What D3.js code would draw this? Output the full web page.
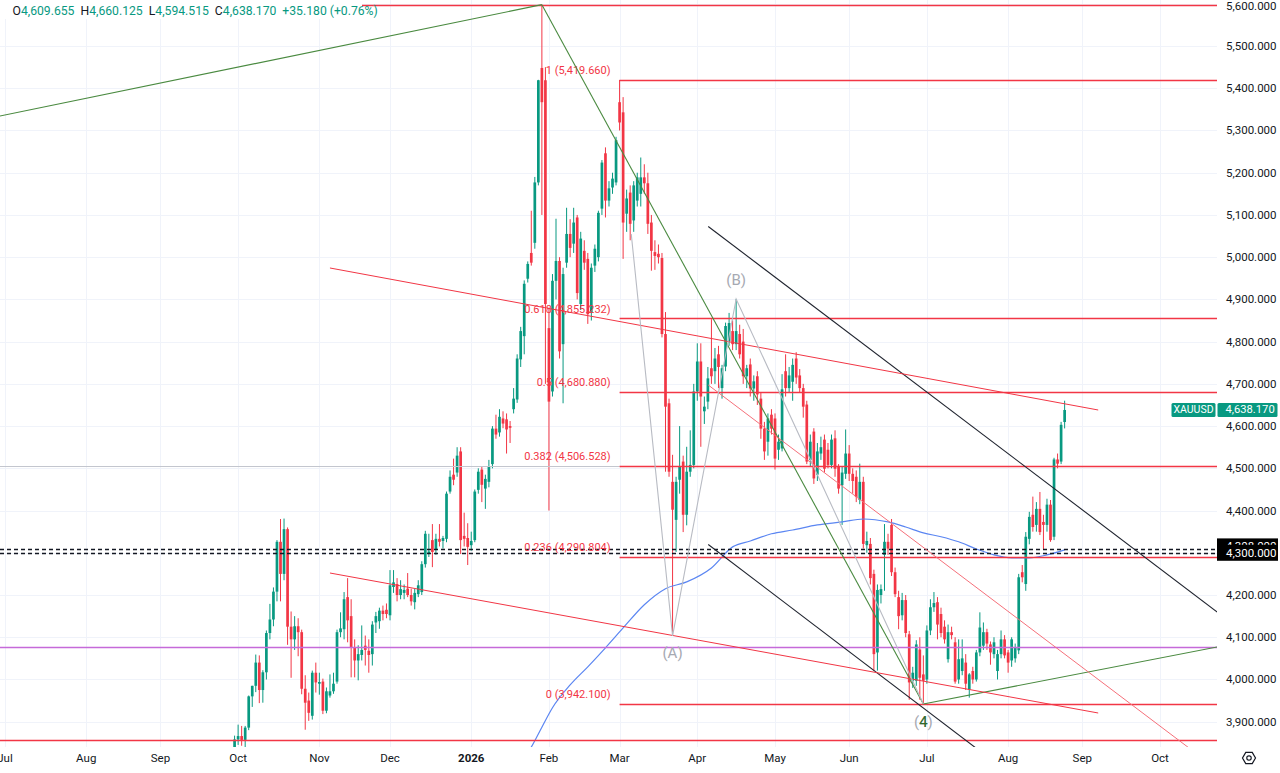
<!DOCTYPE html>
<html><head><meta charset="utf-8">
<script src="https://cdn.jsdelivr.net/npm/d3@7"></script>
<style>
html,body{margin:0;padding:0;background:#fff;overflow:hidden;}
svg{display:block;font-family:Roboto,"Noto Sans",sans-serif;}
</style></head><body>
<svg id="chart" width="1280" height="773"></svg>
<script>
// ---------------- DATA ----------------
const firstBarDate = "2025-09-30";
// daily candles [open, high, low, close]
const sep25 = [[3840,3867,3836,3858]];
const oct25 = [[3858,3893,3845,3866],[3866,3890,3843,3857],[3857,3890,3835,3886],[3886,3962,3880,3960],[3960,3985,3935,3985],
 [3985,4059,3970,4040],[4040,4057,3944,3975],[3975,4022,3945,4017],[4017,4116,4000,4110],[4110,4179,4095,4142],
 [4142,4218,4126,4208],[4208,4330,4185,4326],[4326,4380,4185,4250],[4250,4381,4235,4356],[4356,4360,4082,4125],
 [4125,4161,4004,4095],[4095,4150,4070,4126],[4126,4145,4055,4112],[4112,4118,3965,3978],[3978,4010,3881,3945],
 [3950,3969,3902,3921],[3914,4021,3905,4016],[4016,4040,3969,3993]];
const nov25 = [[3990,4016,3964,3994],[3995,4002,3918,3926],[3926,3981,3920,3972],[3962,4012,3957,3972],[3972,4016,3966,3990],
 [3995,4118,3990,4112],[4112,4159,4100,4121],[4119,4207,4095,4190],[4195,4240,4088,4140],[4150,4190,4005,4076],
 [4076,4095,4005,4045],[4045,4081,3998,4060],[4058,4128,4045,4070],[4080,4104,4033,4070],[4068,4095,4016,4058],
 [4060,4138,4033,4130],[4135,4160,4110,4150],[4138,4170,4120,4163],[4163,4175,4140,4155],[4165,4180,4145,4155]];
const dec25 = [[4152,4259,4140,4223],[4219,4259,4205,4230],[4226,4240,4185,4200],[4200,4235,4190,4214],[4205,4225,4190,4212],
 [4215,4252,4195,4200],[4200,4215,4175,4185],[4183,4215,4166,4205],[4202,4235,4195,4223],[4207,4280,4200,4273],
 [4273,4352,4265,4345],[4298,4345,4290,4303],[4330,4368,4266,4302],[4309,4345,4295,4333],[4333,4368,4315,4326],
 [4328,4340,4310,4335],[4333,4445,4325,4440],[4445,4495,4440,4480],[4485,4523,4460,4473],[4490,4550,4480,4530],
 [4540,4550,4297,4330],[4340,4395,4315,4333],[4335,4370,4271,4314]];
const jan26 = [[4318,4350,4305,4328],[4330,4450,4325,4445],[4449,4500,4440,4492],[4497,4505,4420,4461],[4452,4485,4404,4475],
 [4468,4520,4455,4504],[4510,4600,4500,4594],[4594,4627,4570,4580],[4585,4640,4575,4622],[4618,4635,4595,4606],
 [4616,4630,4535,4592],[4600,4612,4560,4596],[4640,4690,4630,4665],[4663,4770,4655,4760],[4758,4835,4740,4825],
 [4813,4945,4770,4937],[4949,4990,4940,4984],[5010,5110,4980,4987],[5034,5190,5020,5177],[5177,5420,5170,5419],
 [5448,5598,5100,5367],[5419,5450,4700,4889]];
const feb26 = [[4832,4880,4400,4658],[4682,4960,4670,4944],[4944,5091,4900,4991],[4991,5000,4760,4777],[4794,4975,4654,4960],
 [4987,5117,4975,5055],[5055,5090,5000,5022],[5032,5117,5010,5082],[5094,5100,4900,4915],[4889,5060,4875,5044],
 [5015,5040,4970,4987],[4996,5010,4842,4865],[4868,4985,4850,4975],[4980,5030,4965,5020],[5000,5110,4990,5105],
 [5115,5230,5100,5224],[5246,5260,5094,5134],[5134,5180,5120,5163],[5165,5200,5150,5186],[5177,5285,5170,5277]];
const mar26 = [[5367,5419.66,5300,5319],[5343,5379,4996,5082],[5103,5160,5060,5139],[5153,5170,5040,5079],[5087,5180,5060,5170],
 [5134,5200,5120,5189],[5150,5236,5120,5189],[5189,5220,5150,5175],[5175,5200,5055,5079],[5082,5100,4968,5015],
 [5012,5040,4970,5003],[5008,5030,4985,5000],[4998,5010,4810,4818],[4818,4870,4492,4646],[4654,4665,4480,4492],
 [4468,4532,4103,4402],[4378,4480,4302,4468],[4473,4600,4440,4504],[4516,4530,4349,4390],[4390,4551,4365,4492],
 [4492,4590,4480,4508],[4508,4700,4500,4682]];
const apr26 = [[4682,4796,4660,4753],[4753,4796,4551,4670],[4635,4670,4605,4646],[4658,4740,4640,4713],[4737,4853,4700,4718],
 [4730,4785,4700,4760],[4770,4790,4690,4740],[4690,4745,4665,4737],[4741,4845,4730,4837],[4801,4868,4790,4844],
 [4825,4850,4780,4794],[4794,4901,4780,4825],[4818,4840,4760,4770],[4800,4830,4700,4718],[4718,4745,4690,4737],
 [4746,4760,4670,4689],[4689,4720,4660,4706],[4718,4730,4650,4675],[4665,4680,4570,4594],[4594,4610,4520,4540],
 [4563,4630,4530,4618],[4627,4640,4580,4594]];
const may26 = [[4618,4630,4497,4523],[4544,4580,4520,4563],[4547,4723,4540,4687],[4730,4770,4670,4690],[4690,4740,4680,4720],
 [4705,4760,4660,4745],[4760,4775,4700,4715],[4720,4735,4680,4690],[4690,4700,4620,4646],[4651,4660,4510,4516],
 [4520,4580,4505,4563],[4587,4595,4463,4476],[4485,4560,4470,4540],[4535,4575,4520,4550],[4568,4580,4490,4499],
 [4544,4560,4500,4508],[4508,4580,4500,4568],[4571,4590,4480,4499],[4504,4510,4440,4452],[4460,4505,4366,4490],
 [4487,4592,4475,4535]];
const jun26 = [[4535,4555,4470,4487],[4487,4500,4440,4470],[4480,4495,4420,4432],[4425,4511,4415,4468],[4468,4480,4310,4321],
 [4318,4350,4300,4328],[4321,4335,4225,4240],[4250,4260,4021,4060],[4064,4225,4021,4212],[4200,4225,4180,4214],
 [4295,4368,4210,4326],[4326,4345,4295,4310],[4366,4380,4245,4254],[4254,4265,4195,4202],[4195,4210,4119,4150],
 [4152,4205,4140,4188],[4188,4200,4100,4110],[4107,4115,3952,3993],[3997,4030,3980,4016],[3997,4093,3985,4083],
 [4071,4100,3952,4004],[4012,4057,3942.1,3997]];
const jul26 = [[4000,4128,3990,4116],[4116,4190,4105,4171],[4171,4207,4160,4181],[4183,4195,4095,4130],[4155,4170,4100,4110],
 [4125,4140,4085,4095],[4048,4130,4040,4112],[4112,4125,4095,4105],[4088,4100,3990,3995],[4000,4095,3990,4048],
 [4020,4095,4010,4050],[4040,4060,3975,3990],[3976,4015,3957,4012],[4020,4030,3990,4000],[4000,4070,3995,4064],
 [4064,4159,4055,4123],[4080,4135,4070,4112],[4112,4120,4070,4085],[4083,4090,4035,4064],[4060,4100,4050,4088],
 [4020,4070,4000,4060],[4060,4116,4050,4095],[4095,4105,4050,4057]];
const aug26 = [[4064,4070,4016,4040],[4045,4100,4030,4095],[4050,4085,4040,4075],[4069,4250,4060,4242],[4254,4271,4230,4242],
 [4226,4349,4210,4338],[4333,4397,4320,4385],[4390,4433,4350,4361],[4366,4420,4350,4404],[4404,4444,4342,4349],
 [4373,4390,4309,4366],[4366,4428,4350,4414],[4414,4425,4326,4330],[4338,4525,4330,4521],[4521,4535,4500,4511],
 [4516,4610,4510,4602.99],[4609.655,4660.125,4594.515,4638.17]];

// moving average (bar index = weekdays since 2025-07-01, value)
const maPoints = [[147,3815],[149,3840],[152,3887],[155,3933],[160,3987],[165,4030],[170,4075],[175,4122],[181,4177],
 [187,4215],[193,4231],[200,4264],[206,4314],[211,4328],[217,4345],[223,4354],[230,4366],[237,4373],[243,4380],
 [250,4373],[255,4361],[260,4347],[265,4338],[270,4326],[275,4309],[280,4295],[285,4288],[290,4288],[295,4295],[300,4307]];

// axis ticks
const timeTickLabels = ["Jul","Aug","Sep","Oct","Nov","Dec","2026","Feb","Mar","Apr","May","Jun","Jul","Aug","Sep","Oct"];
const timeTickDates = ["2025-07-01","2025-08-01","2025-09-01","2025-10-01","2025-11-03","2025-12-01","2026-01-01","2026-02-02",
 "2026-03-02","2026-04-01","2026-05-01","2026-06-01","2026-07-01","2026-08-03","2026-09-01","2026-10-01"];
const priceTicks = [3900,4000,4100,4200,4300,4400,4500,4600,4700,4800,4900,5000,5100,5200,5300,5400,5500,5600];

// drawings: [barIndex, price]
const fibHigh = 5419.66, fibLow = 3942.1, fibStartBar = 174;
const fibRatios = [1,0.618,0.5,0.382,0.236,0];
const greenLines = [[[-5,5328],[152,5598]], [[152,5598],[260,3942.1]], [[260,3942.1],[343.2,4077]]];
const blackLines = [[[199.1,5072.6],[343.2,4159.8]], [[199.1,4319.6],[300,3678]]];
const redDiagLines = [[[92,4974.4],[309.5,4638.1]], [[92,4252.1],[309.5,3920.6]], [[199.1,4697.3],[345,3776]]];
const waveZigzag = [[177.3,5055],[189,4103],[207,4901],[260,3942.1]];
const waveLabels = ["(A)","(B)","(4)"];
const waveBars = [189,207,260];
const wavePrices = [4103,4901,3942.1];
const redLevels = [5598,3857];
const purpleLevels = [4077];
const greyLevels = [4506.5];
const dashedLevels = [4308,4300];
const symbol = "XAUUSD";

// ---------------- CHART ----------------
const svg = d3.select("#chart");
const plotR = 1217, plotB = 747;
const UP = "#089981", DN = "#f23645", TXT = "#131722";
const AXF = 11.5;
const x = d3.scaleLinear().domain([0,327]).range([5,1160]);
const y = d3.scaleLinear().domain([3900,5600]).range([721.7,3.8]);
const yr = p => Math.round(y(p)) + 0.5;
const origin = Date.UTC(2025,6,1);
function wd(s){ const end = new Date(s+"T00:00:00Z").getTime(); let n=0;
  for(let t=origin; t<end; t+=86400000){ const g=new Date(t).getUTCDay(); if(g!==0&&g!==6) n++; } return n; }

const candles = [].concat(sep25,oct25,nov25,dec25,jan26,feb26,mar26,apr26,may26,jun26,jul26,aug26);
const t0 = wd(firstBarDate);
const bars = candles.map((c,i)=>({t:t0+i,o:c[0],h:c[1],l:c[2],c:c[3]}));

svg.append("rect").attr("width",1280).attr("height",773).attr("fill","#fff");
const defs = svg.append("defs");
defs.append("clipPath").attr("id","plot").append("rect").attr("x",0).attr("y",0).attr("width",plotR).attr("height",plotB);
const g = svg.append("g").attr("clip-path","url(#plot)");

// grid
g.append("g").selectAll("line").data(priceTicks).join("line")
 .attr("x1",0).attr("x2",plotR).attr("y1",d=>yr(d)).attr("y2",d=>yr(d)).attr("stroke","#f0f3fa").attr("stroke-width",1);
const tickT = timeTickDates.map(wd);
g.append("g").selectAll("line").data(tickT).join("line")
 .attr("x1",d=>Math.round(x(d))+0.5).attr("x2",d=>Math.round(x(d))+0.5).attr("y1",0).attr("y2",plotB).attr("stroke","#f0f3fa").attr("stroke-width",1);

const line = d3.line().x(d=>x(d[0])).y(d=>y(d[1]));

// candles
const cg = g.append("g");
cg.selectAll("line").data(bars).join("line")
 .attr("x1",d=>x(d.t)).attr("x2",d=>x(d.t)).attr("y1",d=>y(d.h)).attr("y2",d=>y(d.l))
 .attr("stroke",d=>d.c>=d.o?UP:DN).attr("stroke-width",1);
cg.selectAll("rect").data(bars).join("rect")
 .attr("x",d=>x(d.t)-1.35).attr("width",2.7)
 .attr("y",d=>y(Math.max(d.o,d.c))).attr("height",d=>Math.max(1,Math.abs(y(d.o)-y(d.c))))
 .attr("fill",d=>d.c>=d.o?UP:DN);

// moving average
g.append("path").datum(maPoints).attr("d",d3.line().x(d=>x(d[0])).y(d=>y(d[1])).curve(d3.curveMonotoneX))
 .attr("fill","none").attr("stroke","#5b86f2").attr("stroke-width",1.2);

// horizontal levels
function hline(p,color,w,dash,x2){ g.append("line").attr("x1",0).attr("x2",x2||plotR).attr("y1",yr(p)).attr("y2",yr(p))
  .attr("stroke",color).attr("stroke-width",w).attr("stroke-dasharray",dash||null); }
greyLevels.forEach(p=>hline(p,"#c3c6ce",1.2,null,x(fibStartBar)));
purpleLevels.forEach(p=>hline(p,"#c56ad9",1.4));
redLevels.forEach(p=>hline(p,"#f23645",1.3));
dashedLevels.forEach(p=>hline(p,"#131722",1.5,"4,3"));

// fib
const fg = g.append("g");
fibRatios.forEach(r=>{
  const lv = fibLow + r*(fibHigh-fibLow);
  fg.append("line").attr("x1",x(fibStartBar)).attr("x2",plotR).attr("y1",yr(lv)).attr("y2",yr(lv))
    .attr("stroke","#f23645").attr("stroke-width",1.3);
  fg.append("text").attr("x",x(fibStartBar)-9).attr("y",y(lv)-5.5).attr("text-anchor","end")
    .attr("font-size",11).attr("fill","#f23645").text(`${r} (${d3.format(",.3f")(lv)})`);
});

// trend lines
greenLines.forEach(l=>g.append("path").attr("d",line(l)).attr("stroke","#4a8a40").attr("stroke-width",1.1).attr("fill","none"));
blackLines.forEach(l=>g.append("path").attr("d",line(l)).attr("stroke","#1e222d").attr("stroke-width",1.1).attr("fill","none"));
redDiagLines.forEach((l,i)=>g.append("path").attr("d",line(l)).attr("stroke",i==2?"#f5707a":"#f23645").attr("stroke-width",1).attr("fill","none"));
g.append("path").attr("d",line(waveZigzag)).attr("stroke","#b8bbc3").attr("stroke-width",1.1).attr("fill","none");

// wave labels
const waveOffsets = [17.5,-18.5,17.6];
waveLabels.forEach((s,i)=>{
  g.append("text").attr("x",x(waveBars[i])).attr("y",y(wavePrices[i])+waveOffsets[i]).attr("text-anchor","middle")
   .attr("dominant-baseline","central").attr("font-size",15).attr("fill","#a6a9b2").text(s);
});
g.append("text").attr("x",x(waveBars[2])).attr("y",y(wavePrices[2])+waveOffsets[2]).attr("text-anchor","middle")
 .attr("dominant-baseline","central").attr("font-size",15).attr("fill","#2f6b2a").text("4");

// right axis labels
const ax = svg.append("g");
ax.selectAll("text.p").data(priceTicks).join("text").attr("class","p")
 .attr("x",1226).attr("y",d=>Math.max(6,y(d))).attr("dominant-baseline","central").attr("font-size",AXF).attr("fill",TXT)
 .text(d=>d3.format(",.3f")(d));

// bottom axis labels
ax.selectAll("text.t").data(timeTickLabels).join("text").attr("class","t")
 .attr("x",(d,i)=>x(tickT[i])).attr("y",758).attr("text-anchor","middle").attr("dominant-baseline","central")
 .attr("font-size",11.5).attr("font-weight",d=>d==="2026"?"bold":"normal").attr("fill",TXT).text(d=>d);

// price labels on axis
const last = bars[bars.length-1];
const ly = y(last.c);
ax.append("rect").attr("x",1171.5).attr("y",ly-7).attr("width",44).attr("height",14).attr("rx",1.5).attr("fill",UP);
ax.append("text").attr("x",1193.5).attr("y",ly).attr("text-anchor","middle").attr("dominant-baseline","central")
 .attr("font-size",10.5).attr("fill","#fff").text(symbol);
ax.append("rect").attr("x",1217.5).attr("y",ly-7).attr("width",60).attr("height",14).attr("rx",1.5).attr("fill",UP);
ax.append("text").attr("x",1225.5).attr("y",ly).attr("dominant-baseline","central").attr("font-size",11.2).attr("fill","#fff")
 .text(d3.format(",.3f")(last.c));
dashedLevels.forEach((p,i)=>{
  const yy = y(p) + (i===0?-3:0);
  ax.append("rect").attr("x",1217).attr("y",yy-8).attr("width",61).attr("height",16).attr("fill","#000");
  ax.append("text").attr("x",1226).attr("y",yy).attr("dominant-baseline","central").attr("font-size",AXF).attr("fill","#fff")
   .text(d3.format(",.3f")(p));
});

// settings icon
const ic = ax.append("g").attr("transform","translate(1249,758)");
const hex = d3.range(6).map(k=>{const a=Math.PI/3*k; return [6.5*Math.cos(a),6.5*Math.sin(a)];});
ic.append("path").attr("d","M"+hex.join("L")+"Z").attr("fill","none").attr("stroke",TXT).attr("stroke-width",1.2);
ic.append("circle").attr("r",2.2).attr("fill","none").attr("stroke",TXT).attr("stroke-width",1.2);

// header legend
const prev = bars[bars.length-2].c;
const chg = last.c - prev, pct = chg/prev*100;
svg.append("rect").attr("x",0).attr("y",0).attr("width",362).attr("height",19).attr("fill","#fff");
const ht = svg.append("text").attr("x",12.5).attr("y",14.5).attr("font-size",12.2);
const f3 = d3.format(",.3f");
[["O",last.o],["H",last.h],["L",last.l],["C",last.c]].forEach((p,i)=>{
  ht.append("tspan").attr("fill",TXT).attr("dx",i?6:0).text(p[0]);
  ht.append("tspan").attr("fill",UP).text(f3(p[1]));
});
ht.append("tspan").attr("fill",UP).attr("dx",6).text((chg>=0?"+":"")+f3(chg)+" ("+(pct>=0?"+":"")+pct.toFixed(2)+"%)");
</script></body></html>
